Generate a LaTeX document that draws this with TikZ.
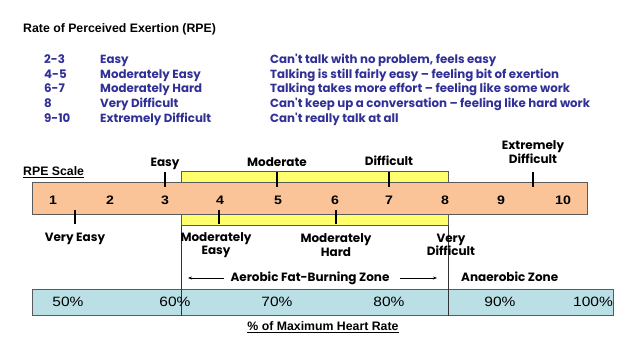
\documentclass[tikz,border=0pt]{standalone}
\usepackage{fontspec}
\usetikzlibrary{arrows.meta}
\setmainfont{Liberation Sans}
\newfontfamily\comicf{Poppins}
\newfontfamily\widef[FakeStretch=1.15]{Liberation Sans}
\definecolor{navy}{RGB}{48,48,150}
\definecolor{peach}{RGB}{250,196,152}
\definecolor{lyellow}{RGB}{255,255,110}
\definecolor{lcyan}{RGB}{186,224,230}
\definecolor{edge}{RGB}{90,90,90}
\begin{document}
\begin{tikzpicture}[x=1pt,y=-1pt,
  listtxt/.style={anchor=base west,inner sep=0pt,text=navy,font=\comicf\bfseries\fontsize{11.8}{13}\selectfont},
  lab/.style={inner sep=0pt,align=center,font=\comicf\bfseries\fontsize{12}{13.5}\selectfont},
  num/.style={anchor=base,inner sep=0pt,font=\widef\bfseries\fontsize{12.3}{14}\selectfont},
  pct/.style={anchor=base,inner sep=0pt,font=\widef\fontsize{13.5}{15}\selectfont},
  head/.style={anchor=base west,inner sep=0pt,font=\bfseries\fontsize{12.3}{14}\selectfont},
  barbox/.style={draw=edge,line width=0.7pt,inner sep=0pt,anchor=north west},
  tickline/.style={line width=1.4pt},
  zoneline/.style={line width=0.6pt,black!80}
]
\useasboundingbox (0,0) rectangle (640,352);
% title
\node[head] (title) at (23,33) {Rate of Perceived Exertion (RPE)};
% list
\foreach \n/\a/\b/\c/\y in {r1/2-3/Easy/{Can't talk with no problem, feels easy}/64,
  r2/4-5/Moderately Easy/{Talking is still fairly easy – feeling bit of exertion}/79,
  r3/6-7/Moderately Hard/{Talking takes more effort – feeling like some work}/93,
  r4/8/Very Difficult/{Can't keep up a conversation – feeling like hard work}/108,
  r5/9-10/Extremely Difficult/{Can't really talk at all}/123}{
  \node[listtxt] (\n a) at (44,\y) {\a};
  \node[listtxt] (\n b) at (100,\y) {\b};
  \node[listtxt] (\n c) at (270,\y) {\c};
}
% bars
\node[barbox,fill=lyellow,minimum width=267pt,minimum height=54pt] (ybar) at (181,171) {};
\node[barbox,fill=peach,minimum width=555pt,minimum height=32pt] (obar) at (32,182) {};
\node[barbox,fill=lcyan,minimum width=581pt,minimum height=26pt] (cbar) at (32,289) {};
\node[head] (rpe) at (23,176) {\underline{RPE Scale}};
% zone lines
\draw[zoneline] (ybar.south west) -- (ybar.south west |- cbar.south);
\draw[zoneline] (ybar.south east) -- (ybar.south east |- cbar.south);
% numbers
\foreach \v/\x in {1/53,2/110,3/165,4/220,5/278,6/335,7/389,8/445,9/501,10/563}{
  \node[num] (n\v) at (\x,205) {\v};
}
% upper labels and ticks
\node[lab,anchor=base] (easy) at (165,167) {Easy};
\node[lab,anchor=base] (moder) at (277,167) {Moderate};
\node[lab,anchor=base] (diff) at (389,166) {Difficult};
\node[lab] (xdiff) at (533,152) {Extremely\\Difficult};
\foreach \x in {165,277,389,533}{\draw[tickline] (\x,172) -- (\x,187);}
% lower labels and ticks
\node[lab,anchor=base] (veasy) at (75,242) {Very Easy};
\node[lab] (measy) at (216,245) {Moderately\\Easy};
\node[lab] (mhard) at (336,245) {Moderately\\Hard};
\node[lab] (vdiff) at (451,245) {Very\\Difficult};
\foreach \x in {75,219,336}{\draw[tickline] (\x,210) -- (\x,224);}
% zone labels
\node[lab,anchor=base] (aer) at (310,282) {Aerobic Fat-Burning Zone};
\coordinate (la) at (188,278);
\coordinate (ra) at (437,278);
\draw[-{Stealth[length=4pt,width=3pt]},line width=0.6pt] (224,278) -- (la);
\draw[-{Stealth[length=4pt,width=3pt]},line width=0.6pt] (400,278) -- (ra);
\node[lab,anchor=base west] (anaer) at (461,282) {Anaerobic Zone};
% percentages
\foreach \p/\x in {50/68,60/175,70/277,80/389,90/500,100/593}{
  \node[pct] (p\p) at (\x,307) {\p\%};
}
\node[head,anchor=base] (hr) at (323,331) {\underline{\% of Maximum Heart Rate}};
\end{tikzpicture}
\end{document}
